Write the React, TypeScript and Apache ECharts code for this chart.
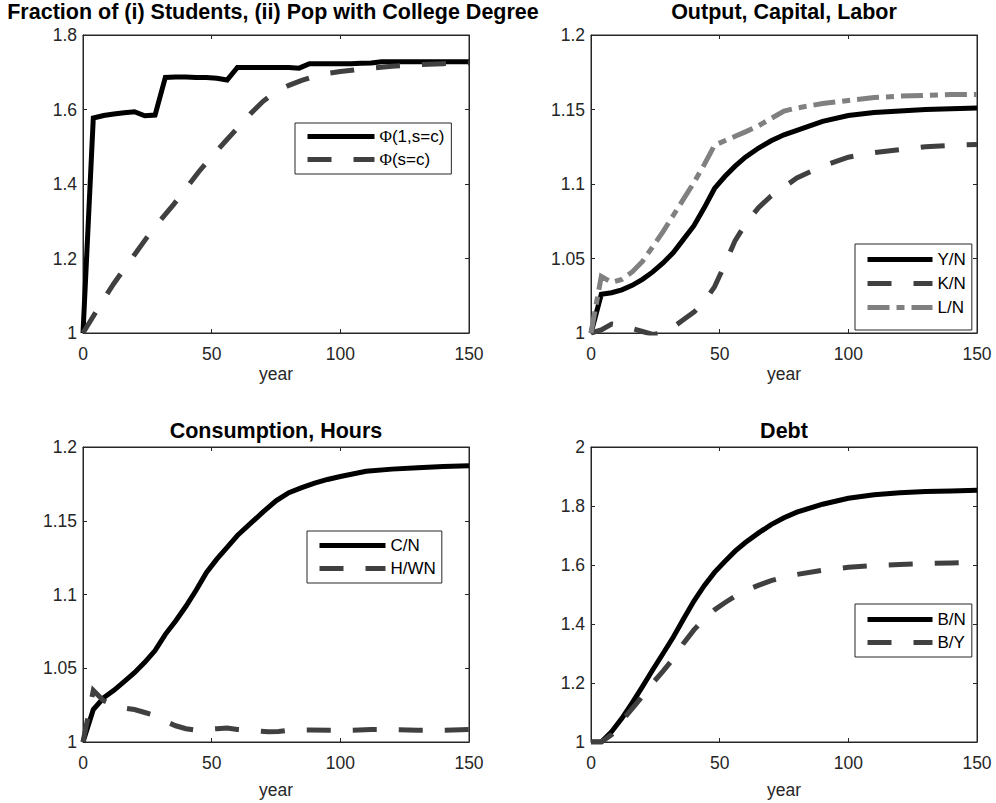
import React, { useEffect, useRef } from 'react';
import * as echarts from 'echarts';

// ---------- data ----------
const xTicks = [0, 50, 100, 150];

// Panel 1: Fraction of students / pop with college degree
const phi1Years = [0, 4, 8, 12, 16, 20, 24, 28, 32, 36, 40, 44, 48, 52, 56, 60, 64, 68, 72, 76, 80, 84, 88, 92, 96, 100, 104, 108, 112, 116, 120, 130, 140, 150];
const phi1Values = [1.0, 1.577, 1.584, 1.588, 1.591, 1.594, 1.583, 1.585, 1.686, 1.687, 1.687, 1.686, 1.686, 1.684, 1.679, 1.713, 1.713, 1.713, 1.713, 1.713, 1.713, 1.711, 1.723, 1.723, 1.723, 1.723, 1.723, 1.724, 1.725, 1.728, 1.728, 1.728, 1.728, 1.728];
const phiYears = [0, 4, 8, 12, 16, 20, 25, 30, 35, 40, 45, 50, 55, 60, 65, 70, 75, 80, 85, 90, 95, 100, 110, 120, 130, 140, 150];
const phiValues = [1.0, 1.045, 1.09, 1.133, 1.172, 1.21, 1.258, 1.302, 1.343, 1.388, 1.433, 1.473, 1.512, 1.55, 1.588, 1.622, 1.648, 1.665, 1.678, 1.689, 1.697, 1.702, 1.71, 1.716, 1.72, 1.723, 1.725];

// Panel 2: Output, Capital, Labor
const tYears = [0, 4, 8, 12, 16, 20, 24, 28, 32, 36, 40, 44, 48, 52, 56, 60, 65, 70, 75, 80, 90, 100, 110, 120, 130, 140, 150];
const yNValues = [1.0, 1.026, 1.027, 1.029, 1.032, 1.036, 1.041, 1.047, 1.054, 1.063, 1.072, 1.084, 1.097, 1.105, 1.112, 1.118, 1.124, 1.129, 1.133, 1.136, 1.142, 1.146, 1.148, 1.149, 1.15, 1.1505, 1.151];
const kNValues = [1.0, 1.002, 1.006, 1.005, 1.003, 1.001, 0.999, 1.0, 1.004, 1.009, 1.014, 1.021, 1.031, 1.046, 1.062, 1.073, 1.084, 1.092, 1.098, 1.104, 1.112, 1.118, 1.121, 1.123, 1.125, 1.126, 1.1265];
const lNValues = [1.0, 1.038, 1.034, 1.036, 1.041, 1.048, 1.058, 1.068, 1.079, 1.09, 1.101, 1.113, 1.126, 1.129, 1.132, 1.135, 1.139, 1.144, 1.149, 1.151, 1.154, 1.156, 1.158, 1.159, 1.1595, 1.16, 1.16];

// Panel 3: Consumption, Hours
const cYears = [0, 4, 8, 12, 16, 20, 24, 28, 32, 36, 40, 44, 48, 52, 56, 60, 65, 70, 75, 80, 85, 90, 95, 100, 110, 120, 130, 140, 150];
const cNValues = [1.0, 1.022, 1.03, 1.035, 1.041, 1.047, 1.054, 1.062, 1.073, 1.082, 1.092, 1.103, 1.115, 1.124, 1.132, 1.14, 1.148, 1.156, 1.1635, 1.169, 1.1725, 1.1755, 1.178, 1.18, 1.1835, 1.185, 1.186, 1.1868, 1.1873];
const hYears = [0, 4, 8, 12, 16, 20, 24, 28, 32, 36, 40, 44, 48, 52, 56, 60, 64, 68, 72, 76, 80, 88, 96, 104, 112, 120, 130, 140, 150];
const hWNValues = [1.0, 1.035, 1.028, 1.025, 1.023, 1.022, 1.02, 1.018, 1.014, 1.011, 1.009, 1.008, 1.0085, 1.009, 1.0095, 1.0085, 1.008, 1.0075, 1.007, 1.0072, 1.008, 1.0082, 1.008, 1.008, 1.0084, 1.0084, 1.008, 1.008, 1.0084];

// Panel 4: Debt
const bNValues = [1.0, 1.0, 1.035, 1.08, 1.133, 1.188, 1.245, 1.3, 1.356, 1.418, 1.478, 1.53, 1.575, 1.612, 1.647, 1.676, 1.708, 1.737, 1.76, 1.779, 1.806, 1.826, 1.838, 1.845, 1.849, 1.851, 1.853];
const bYValues = [1.0, 1.0, 1.025, 1.072, 1.113, 1.155, 1.2, 1.24, 1.283, 1.335, 1.38, 1.418, 1.448, 1.472, 1.494, 1.513, 1.531, 1.547, 1.558, 1.568, 1.582, 1.592, 1.598, 1.602, 1.605, 1.607, 1.609];

const titles = [
  'Fraction of (i) Students, (ii) Pop with College Degree',
  'Output, Capital, Labor',
  'Consumption, Hours',
  'Debt',
];
const yRanges = [
  { min: 1, max: 1.8, interval: 0.2 },
  { min: 1, max: 1.2, interval: 0.05 },
  { min: 1, max: 1.2, interval: 0.05 },
  { min: 1, max: 2, interval: 0.2 },
];

// ---------- styling ----------
const FONT = "'Liberation Sans', Arial, Helvetica, sans-serif";
const SERIF = "'Liberation Serif', 'DejaVu Serif', serif";
const AX = '#262626';
const BLACK = '#000000';
const DARK = '#404040';
const LIGHT = '#808080';
const LW = 5;
const DASH = [24, 22];
const DASHDOT = [22, 7, 8, 7];

const grids = [
  { left: 83, top: 35, width: 386, height: 298 },
  { left: 591, top: 35, width: 386, height: 298 },
  { left: 83, top: 447, width: 386, height: 295 },
  { left: 591, top: 447, width: 386, height: 295 },
];
const nameGaps = [32, 32, 39, 39];
const titlePos = [
  { x: 273, y: 1 },
  { x: 784, y: 1 },
  { x: 276, y: 420 },
  { x: 784, y: 420 },
];

const zip = (xs: number[], ys: number[]) => xs.map((x, i) => [x, ys[i]]);
const fmt = (v: number) => String(parseFloat(v.toFixed(3)));

function buildOption() {
  const xAxis: any[] = [];
  const yAxis: any[] = [];
  grids.forEach((_, i) => {
    const tick = { inside: true, length: 4, lineStyle: { color: AX, width: 1 } };
    const line = { show: true, onZero: false, lineStyle: { color: AX, width: 1 } };
    xAxis.push({
      type: 'value', gridIndex: i, position: 'bottom', min: xTicks[0], max: xTicks[xTicks.length - 1], interval: 50,
      name: 'year', nameLocation: 'middle', nameGap: nameGaps[i],
      nameTextStyle: { fontSize: 17.5, color: AX, fontFamily: FONT },
      axisLine: line, axisTick: tick,
      axisLabel: { fontSize: 17.5, color: AX, fontFamily: FONT, margin: 12, formatter: (v: number) => fmt(v) },
      splitLine: { show: false },
    });
    xAxis.push({
      type: 'value', gridIndex: i, position: 'top', min: xTicks[0], max: xTicks[xTicks.length - 1], interval: 50,
      axisLine: line, axisTick: tick, axisLabel: { show: false }, splitLine: { show: false },
    });
    const r = yRanges[i];
    yAxis.push({
      type: 'value', gridIndex: i, position: 'left', min: r.min, max: r.max, interval: r.interval,
      axisLine: line, axisTick: tick,
      axisLabel: { fontSize: 17.5, color: AX, fontFamily: FONT, margin: 6, formatter: (v: number) => fmt(v) },
      splitLine: { show: false },
    });
    yAxis.push({
      type: 'value', gridIndex: i, position: 'right', min: r.min, max: r.max, interval: r.interval,
      axisLine: line, axisTick: tick, axisLabel: { show: false }, splitLine: { show: false },
    });
  });

  const mk = (name: string, g: number, xs: number[], ys: number[], color: string, type: any, z: number) => ({
    type: 'line', name, xAxisIndex: 2 * g, yAxisIndex: 2 * g, data: zip(xs, ys),
    showSymbol: false, symbol: 'none', z,
    lineStyle: { color, width: LW, type, cap: 'butt', join: 'miter' },
    itemStyle: { color },
    emphasis: { disabled: true },
  });

  const series = [
    mk('Φ(1,s=c)', 0, phi1Years, phi1Values, BLACK, 'solid', 2),
    mk('Φ(s=c)', 0, phiYears, phiValues, DARK, DASH, 3),
    mk('Y/N', 1, tYears, yNValues, BLACK, 'solid', 2),
    mk('K/N', 1, tYears, kNValues, DARK, DASH, 3),
    mk('L/N', 1, tYears, lNValues, LIGHT, DASHDOT, 4),
    mk('C/N', 2, cYears, cNValues, BLACK, 'solid', 2),
    mk('H/WN', 2, hYears, hWNValues, DARK, DASH, 3),
    mk('B/N', 3, tYears, bNValues, BLACK, 'solid', 2),
    mk('B/Y', 3, tYears, bYValues, DARK, DASH, 3),
  ];

  const legendCommon = {
    orient: 'vertical',
    backgroundColor: '#ffffff',
    borderColor: AX,
    borderWidth: 1,
    borderRadius: 0,
    itemHeight: 17,
    itemGap: 6,
    selectedMode: false,
    lineStyle: { width: 'inherit' },
    itemStyle: { color: 'rgba(0,0,0,0)', borderWidth: 0, opacity: 0 },
    formatter: (name: string) => name.replace('Φ', '{phi|Φ}'),
    textStyle: {
      fontSize: 17, color: '#000', fontFamily: FONT,
      rich: { phi: { fontSize: 17, color: '#000', fontFamily: SERIF } },
    },
  };

  const legend = [
    { ...legendCommon, data: ['Φ(1,s=c)', 'Φ(s=c)'], left: 295, top: 123, itemWidth: 67, padding: [5, 7, 6, 10] },
    { ...legendCommon, data: ['Y/N', 'K/N', 'L/N'], left: 855, top: 244, itemWidth: 65, itemGap: 7, padding: [7, 6, 14, 10] },
    { ...legendCommon, data: ['C/N', 'H/WN'], left: 307, top: 531, itemWidth: 66, padding: [6, 6, 6, 10] },
    { ...legendCommon, data: ['B/N', 'B/Y'], left: 855, top: 604, itemWidth: 65, padding: [7, 6, 6, 10] },
  ];

  const title = titles.map((t, i) => ({
    text: t,
    left: titlePos[i].x,
    top: titlePos[i].y,
    textAlign: 'center',
    padding: 0,
    textStyle: { fontSize: 21.5, fontWeight: 'bold', color: '#000', fontFamily: FONT },
  }));

  return {
    animation: false,
    backgroundColor: '#ffffff',
    title,
    legend,
    grid: grids.map((g) => ({ ...g, show: true, borderColor: AX, borderWidth: 1, backgroundColor: '#ffffff' })),
    xAxis,
    yAxis,
    series,
  };
}

export default function App() {
  const ref = useRef<HTMLDivElement>(null);
  useEffect(() => {
    document.body.style.margin = '0';
    if (!ref.current) return;
    const chart = echarts.init(ref.current, null, { renderer: 'svg' });
    chart.setOption(buildOption() as any);
    return () => chart.dispose();
  }, []);
  return <div ref={ref} style={{ width: 996, height: 803 }} />;
}
